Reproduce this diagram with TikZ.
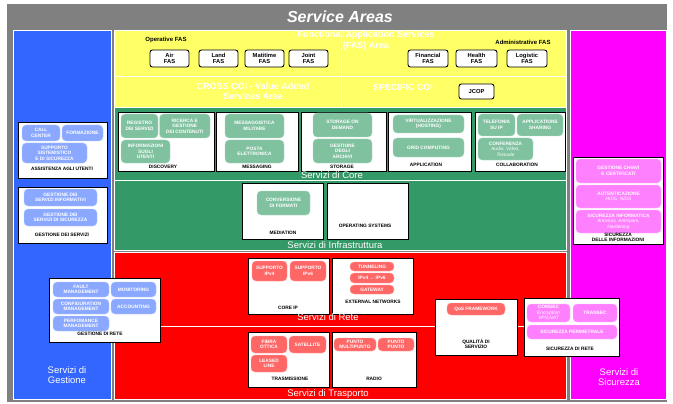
\documentclass[tikz,border=0pt]{standalone}
\usepackage{fontspec}
\setmainfont{Liberation Sans}
\definecolor{bgray}{HTML}{808080}
\definecolor{cblue}{HTML}{3366FF}
\definecolor{cyellow}{HTML}{FFFF66}
\definecolor{cgreen}{HTML}{339966}
\definecolor{cred}{HTML}{FF0000}
\definecolor{cmag}{HTML}{FF00FF}
\definecolor{pblue}{HTML}{8AA8FF}
\definecolor{pgreen}{HTML}{80C2A0}
\definecolor{pred}{HTML}{FF6666}
\definecolor{pmag}{HTML}{FF80FF}
\newcommand{\pilltext}{\fontsize{4.8}{5.4}\selectfont\bfseries}
\newcommand{\itx}[1]{{\mdseries\itshape #1}}
\newcommand{\bx}[7]{\node[#2,minimum width={(#5-#3)*1pt},minimum height={(#6-#4)*1pt}] (#1) at ({(#3+#5)/2},{(#4+#6)/2}) {#7};}
\tikzset{
  region/.style={draw=white, line width=0.7pt, inner sep=0, outer sep=0},
  panel/.style={draw=black, fill=white, line width=0.8pt, inner sep=0},
  pill/.style={rounded corners=4pt, inner sep=0, text=white, align=center, font=\pilltext, line width=0.4pt},
  pb/.style={pill, fill=pblue, draw=pblue!60!white},
  pg/.style={pill, fill=pgreen, draw=pgreen!60!white},
  pr/.style={pill, fill=pred, draw=pred!60!white},
  pm/.style={pill, fill=pmag, draw=pmag!60!white},
  fasbox/.style={draw=black, fill=white, line width=0.9pt, rounded corners=2.5pt, inner sep=0, align=center, font=\fontsize{5.8}{6.2}\selectfont\bfseries},
  plabel/.style={inner sep=0, align=center, font=\fontsize{4.8}{5.2}\selectfont\bfseries, text=black},
  rlabel/.style={inner sep=0, align=center, font=\fontsize{9.5}{10.5}\selectfont, text=white},
  ylabel/.style={inner sep=0, align=center, font=\fontsize{9}{11}\selectfont\bfseries, text=white},
  blabel/.style={inner sep=0, align=center, font=\fontsize{6}{7}\selectfont\bfseries, text=black},
}
\begin{document}
\begin{tikzpicture}[x=1pt,y=-1pt]
\useasboundingbox (0,0) rectangle (673,404);
\fill[white] (0,0) rectangle (673,404);
\bx{frame}{fill=bgray,inner sep=0}{7}{4}{667}{402}{}
\node[inner sep=0, text=white, font=\fontsize{16}{18}\selectfont\bfseries\itshape] (title) at (340,17) {Service Areas};
% regions
\bx{gest}{region,fill=cblue}{13}{30}{111}{399}{}
\bx{fasL}{region,fill=cyellow}{114}{30}{341}{76.5}{}
\bx{fasR}{region,fill=cyellow}{341}{30}{566}{76.5}{}
\bx{coiL}{region,fill=cyellow}{114}{76.5}{341}{107.5}{}
\bx{coiR}{region,fill=cyellow}{341}{76.5}{566}{107.5}{}
\bx{core}{region,fill=cgreen}{114}{107.5}{566}{180}{}
\bx{infra}{region,fill=cgreen}{114}{180}{566}{250}{}
\bx{rete}{region,fill=cred}{114}{252}{566}{326.5}{}
\bx{trasp}{region,fill=cred}{114}{326.5}{566}{399}{}
\bx{sic}{region,fill=cmag}{570}{30}{666}{399}{}
% yellow area
\node[ylabel] (fastxt) at (366,40.5) {Functional Application Services\\(FAS) Area};
\node[ylabel, font=\fontsize{9}{9.5}\selectfont\bfseries] (crosstxt) at (253,91.5) {CROSS COI - Value Added\\Services Area};
\node[ylabel] (spectxt) at (403,87) {SPECIFIC COI};
\node[blabel] (opfas) at (166,40) {Operative FAS};
\node[blabel] (adfas) at (523,42) {Administrative FAS};
\bx{air}{fasbox}{150}{50}{189}{67}{Air\\FAS}
\bx{land}{fasbox}{199}{50}{238}{67}{Land\\FAS}
\bx{mati}{fasbox}{245}{50}{284}{67}{Matitime\\FAS}
\bx{joint}{fasbox}{289}{50}{328}{67}{Joint\\FAS}
\bx{fin}{fasbox}{408}{50}{448}{67}{Financial\\FAS}
\bx{health}{fasbox}{456}{50}{497}{67}{Health\\FAS}
\bx{logi}{fasbox}{507}{50}{547}{67}{Logistic\\FAS}
\bx{jcop}{fasbox}{459}{84}{494}{99}{JCOP}
% core
\bx{disc}{panel}{118}{112}{214}{171}{}
\bx{mess}{panel}{216}{112}{298}{171}{}
\bx{stor}{panel}{301}{112}{386}{171}{}
\bx{appl}{panel}{388}{112}{471}{171}{}
\bx{coll}{panel}{475}{112}{565}{171}{}
\bx{reg}{pg}{121}{114}{158}{138}{REGISTRO\\DEI SERVIZI}
\bx{ric}{pg}{159.5}{114}{210}{138}{RICERCA E\\GESTIONE\\DEI CONTENUTI}
\bx{info}{pg}{121}{140}{170}{163}{INFORMAZIONI\\SUGLI\\UTENTI}
\bx{msgm}{pg}{225}{114}{284}{138}{MESSAGGISTICA\\MILITARE}
\bx{posta}{pg}{225}{140}{284}{163}{POSTA\\ELETTRONICA}
\bx{sod}{pg}{313}{113}{372}{137}{STORAGE ON\\DEMAND}
\bx{arch}{pg}{313}{139}{372}{163}{GESTIONE\\DEGLI\\ARCHIVI}
\bx{virt}{pg}{393}{115}{464}{133}{VIRTUALIZZAZIONE\\(HOSTING)}
\bx{grid}{pg}{393}{138}{464}{157}{GRID COMPUTING}
\bx{tel}{pg}{478}{114}{515}{136}{TELEFONIA\\SU IP}
\bx{apps}{pg}{517}{114}{563}{136}{APPLICATIONS\\SHARING}
\bx{conf}{pg}{478}{138}{533}{160}{CONFERENZA\\\itx{Audio, Video,}\\\itx{Testuale}}
\node[plabel] (ldisc) at (163,166.5) {DISCOVERY};
\node[plabel] (lmess) at (257,167) {MESSAGING};
\node[plabel] (lstor) at (342,167) {STORAGE};
\node[plabel] (lappl) at (426,165) {APPLICATION};
\node[plabel] (lcoll) at (517,165) {COLLABORATION};
\node[rlabel] (lcore) at (332,175) {Servizi di Core};
% infrastruttura
\bx{medi}{panel}{242}{183}{323}{239}{}
\bx{opsys}{panel}{327}{183}{408}{239}{}
\bx{conv}{pg}{257}{191}{310}{215}{CONVERSIONE\\DI FORMATI}
\node[plabel] (lmedi) at (283,233) {MEDIATION};
\node[plabel] (lops) at (365,226) {OPERATING SYSTEMS};
\node[rlabel] (linfra) at (335,245) {Servizi di Infrastruttura};
% rete
\bx{coreip}{panel}{248}{258}{329}{314}{}
\bx{extn}{panel}{332}{258}{413}{314}{}
\bx{ipv4}{pr}{252}{261}{287}{281}{SUPPORTO\\IPv4}
\bx{ipv6}{pr}{290}{261}{326}{281}{SUPPORTO\\IPv6}
\bx{tunn}{pr}{350}{262}{394}{271}{TUNNELING}
\bx{ipx}{pr}{350}{273}{394}{283}{IPv4 ↔ IPv6}
\bx{gw}{pr}{350}{285}{394}{294}{GATEWAY}
\node[plabel] (lcoreip) at (288,308) {CORE IP};
\node[plabel] (lextn) at (373,302) {EXTERNAL NETWORKS};
\node[rlabel] (lrete) at (328,317) {Servizi di Rete};
% trasporto
\bx{trasm}{panel}{248}{332}{329}{387}{}
\bx{radio}{panel}{332}{332}{416}{387}{}
\bx{fibra}{pr}{251}{336}{287}{353}{FIBRA\\OTTICA}
\bx{sat}{pr}{289}{336}{326}{353}{SATELLITE}
\bx{leased}{pr}{251}{355}{287}{372}{LEASED\\LINE}
\bx{pmp}{pr}{334}{338}{376}{351}{PUNTO\\MULTIPUNTO}
\bx{pp}{pr}{378}{338}{414}{351}{PUNTO\\PUNTO}
\node[plabel] (ltrasm) at (290,379) {TRASMISSIONE};
\node[plabel] (lradio) at (374,379) {RADIO};
\node[rlabel] (ltrasp) at (328,394) {Servizi di Trasporto};
% gestione
\bx{assist}{panel}{18}{122}{107}{178}{}
\bx{call}{pb}{22}{125}{60}{141}{CALL\\CENTER}
\bx{form}{pb}{62}{125}{103}{141}{FORMAZIONE}
\bx{supp}{pb}{22}{143}{87}{163}{SUPPORTO\\SISTEMISTICO\\E DI SICUREZZA}
\node[plabel] (lassist) at (62,169) {ASSISTENZA AGLI UTENTI};
\bx{gserv}{panel}{18}{187}{107}{243}{}
\bx{gsi}{pb}{24}{189}{97}{206}{GESTIONE DEI\\SERVIZI INFORMATIVI}
\bx{gss}{pb}{24}{209}{97}{226}{GESTIONE DEI\\SERVIZI DI SICUREZZA}
\node[plabel] (lgserv) at (62,235) {GESTIONE DEI SERVIZI};
\bx{grete}{panel}{49}{278}{160}{342}{}
\bx{fault}{pb}{53}{282}{109}{297}{FAULT\\MANAGEMENT}
\bx{monit}{pb}{111}{282}{156}{297}{MONITORING}
\bx{config}{pb}{53}{299}{109}{314}{CONFIGURATION\\MANAGEMENT}
\bx{acc}{pb}{111}{299}{156}{314}{ACCOUNTING}
\bx{perf}{pb}{53}{316}{109}{331}{PERFOMANCE\\MANAGEMENT}
\node[plabel] (lgrete) at (100,334) {GESTIONE DI RETE};
\node[rlabel] (lgest) at (67,375) {Servizi di\\Gestione};
% sicurezza
\bx{sinfo}{panel}{573}{157}{663}{244}{}
\bx{chiavi}{pm}{576}{159}{661}{183}{GESTIONE CHIAVI\\E CERTIFICATI}
\bx{auth}{pm}{576}{185}{661}{208}{AUTENTICAZIONE\\\itx{HIDS, NIDS}}
\bx{sicinf}{pm}{576}{210}{661}{233}{SICUREZZA INFORMATICA\\\itx{Antivirus, Antispam,}\\\itx{Hardening}}
\node[plabel] (lsinfo) at (618,237.5) {SICUREZZA\\DELLE INFORMAZIONI};
\bx{qos}{panel}{435}{299}{517}{355}{}
\bx{qosf}{pr}{447}{303}{505}{315}{QoS FRAMEWORK}
\node[plabel] (lqos) at (476,343.5) {QUALITÀ DI\\SERVIZIO};
\bx{srete}{panel}{524}{298}{619}{356}{}
\bx{comsec}{pm}{527}{304}{570}{322}{COMSEC\\\itx{Encryption}\\\itx{VPN,NAT}}
\bx{transec}{pm}{573}{304}{617}{322}{TRANSEC}
\bx{perim}{pm}{527}{325}{617}{339}{SICUREZZA PERIMETRALE}
\node[plabel] (lsrete) at (570,349) {SICUREZZA DI RETE};
\node[rlabel] (lsic) at (619,377) {Servizi di\\Sicurezza};
\end{tikzpicture}
\end{document}
